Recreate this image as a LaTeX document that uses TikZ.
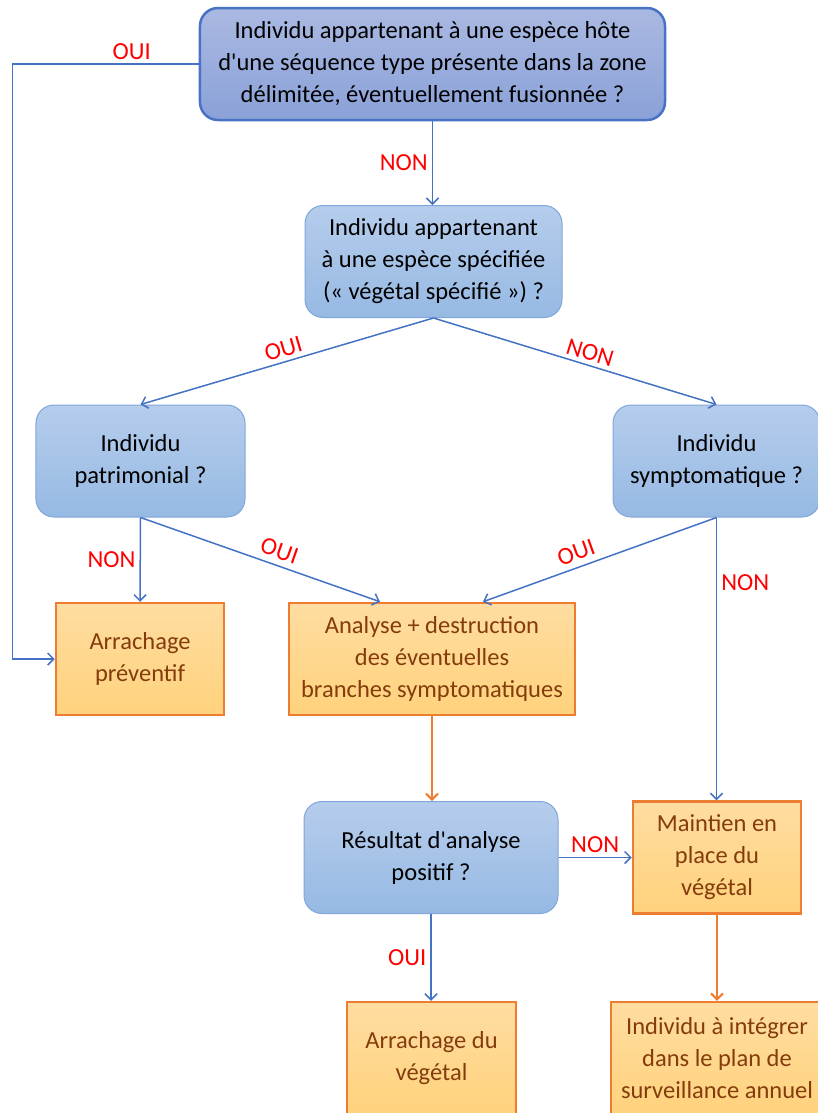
\documentclass[tikz,border=0pt]{standalone}
\usepackage{fontspec}
\setmainfont{Carlito}
\usetikzlibrary{arrows.meta}

\definecolor{qtop}{RGB}{182,205,236}
\definecolor{qbot}{RGB}{150,185,227}
\definecolor{qline}{RGB}{128,166,218}
\definecolor{htop}{RGB}{170,185,226}
\definecolor{hbot}{RGB}{138,161,216}
\definecolor{hline}{RGB}{72,114,196}
\definecolor{atop}{RGB}{255,221,161}
\definecolor{abot}{RGB}{255,210,124}
\definecolor{aline}{RGB}{237,125,49}
\definecolor{atext}{RGB}{132,60,12}
\definecolor{flow}{RGB}{68,114,196}

\begin{document}
\begin{tikzpicture}[x=1bp, y=-1bp,
	every node/.style={font=\fontsize{24.5bp}{32bp}\selectfont, align=center},
	question/.style={rectangle, rounded corners=18bp, draw=qline, line width=1bp, top color=qtop, bottom color=qbot, minimum height=112bp, text=black},
	action/.style={rectangle, draw=aline, line width=2.5bp, top color=atop, bottom color=abot, minimum height=112bp, text=atext},
	link/.style={flow, line width=1.5bp, -{Straight Barb[length=6bp,width=12bp]}},
	olink/.style={aline, line width=2bp, -{Straight Barb[length=6bp,width=12bp]}},
	rep/.style={text=red, inner sep=4bp}]
			\useasboundingbox (0,0) rectangle (818,1113);
			\clip (0,0) rectangle (818,1113);

			\node[question, draw=hline, line width=2.5bp, top color=htop, bottom color=hbot, minimum width=465bp] (hote) at (432.5,64) {Individu appartenant à une espèce hôte\\d\textquotesingle une séquence type présente dans la zone\\délimitée, éventuellement fusionnée ?};
			\node[question, minimum width=257bp] (specifie) at (433.5,261.5) {Individu appartenant\\à une espèce spécifiée\\(« végétal spécifié ») ?};
			\node[question, minimum width=209bp] (patrim) at (140.5,461) {Individu\\patrimonial ?};
			\node[question, minimum width=207bp] (sympto) at (716.5,461) {Individu\\symptomatique ?};
			\node[action, minimum width=168bp] (preventif) at (140,659) {Arrachage\\préventif};
			\node[action, minimum width=286bp] (analyse) at (432,659) {Analyse + destruction\\des éventuelles\\branches symptomatiques};
			\node[question, minimum width=254bp] (resultat) at (431,857.5) {Résultat d\textquotesingle analyse\\positif ?};
			\node[action, minimum width=168bp] (maintien) at (717,857.5) {Maintien en\\place du\\végétal};
			\node[action, minimum width=169bp] (arrachage) at (431.5,1058) {Arrachage du\\végétal};
			\node[action, minimum width=212bp] (surveil) at (717,1058) {Individu à intégrer\\dans le plan de\\surveillance annuel};

			\draw[link] (hote.south) -- node[rep, left] {NON} (hote.south |- specifie.north);
			\draw[link] (hote.west) -| node[rep, above, pos=0.18] {OUI} ([xshift=-42bp]preventif.west) -- (preventif.west);

			\draw[link] (specifie.south) -- node[rep, sloped, above, pos=0.5] {OUI} (patrim.north);
			\draw[link] (specifie.south) -- node[rep, sloped, above, pos=0.54] {NON} (sympto.north);

			\draw[link] (patrim.south) -- node[rep, left] {NON} (preventif.north);
			\draw[link] (patrim.south) -- node[rep, sloped, above=2bp, pos=0.56] {OUI} ([xshift=-52bp]analyse.north);
			\draw[link] (sympto.south) -- node[rep, sloped, above=2bp, pos=0.58] {OUI} ([xshift=51bp]analyse.north);
			\draw[link] (sympto.south) -- node[rep, right, pos=0.23] {NON} (sympto.south |- maintien.north);

			\draw[olink] (analyse.south) -- (analyse.south |- resultat.north);
			\draw[link] (resultat.east) -- node[rep, above] {NON} (maintien.west);
			\draw[link] (resultat.south) -- node[rep, left] {OUI} (resultat.south |- arrachage.north);
			\draw[olink] (maintien.south) -- (maintien.south |- surveil.north);
		\end{tikzpicture}
\end{document}
